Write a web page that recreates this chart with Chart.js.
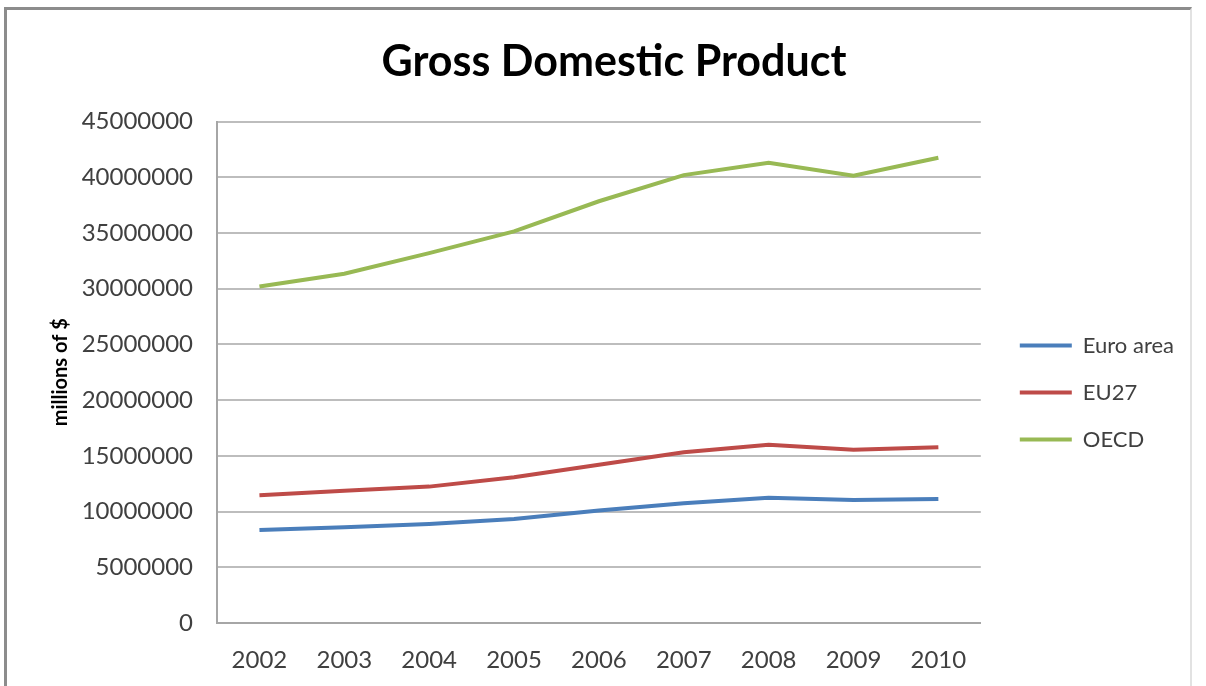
<!DOCTYPE html>
<html>
<head>
<meta charset="utf-8">
<script src="https://cdn.jsdelivr.net/npm/chart.js@4"></script>
<style>
  html, body { margin: 0; padding: 0; background: #fff; }
  #wrap { position: relative; width: 1206px; height: 686px; overflow: hidden; }
  #frame {
    position: absolute; left: 4px; top: 7px; width: 1188px; height: 700px;
    border-left: 3px solid #8c8c8c; border-top: 3px solid #8c8c8c;
    border-right: 2px solid #e2e2e2; box-sizing: border-box;
  }
  canvas { position: absolute; left: 0; top: 0; }
</style>
</head>
<body>
<div id="wrap">
  <div id="frame"></div>
  <canvas id="gdpChart" width="1206" height="686"></canvas>
</div>
<script>
const years = ['2002', '2003', '2004', '2005', '2006', '2007', '2008', '2009', '2010'];
const euroArea = [8350000, 8600000, 8890000, 9340000, 10090000, 10750000, 11250000, 11050000, 11140000];
const eu27 = [11470000, 11860000, 12240000, 13090000, 14200000, 15330000, 15990000, 15540000, 15780000];
const oecd = [30200000, 31350000, 33200000, 35150000, 37850000, 40200000, 41300000, 40150000, 41750000];
const yMax = 45000000;
const yStep = 5000000;

const font = 'Lato, "Open Sans", sans-serif';

function series(label, data, color) {
  return {
    label: label,
    data: data,
    borderColor: color,
    backgroundColor: color,
    borderWidth: 4,
    pointRadius: 0,
    pointHoverRadius: 0,
    tension: 0,
    fill: false
  };
}

new Chart(document.getElementById('gdpChart').getContext('2d'), {
  type: 'line',
  data: {
    labels: years,
    datasets: [
      series('Euro area', euroArea, '#4a7ebb'),
      series('EU27', eu27, '#be4b48'),
      series('OECD', oecd, '#98b954')
    ]
  },
  options: {
    responsive: false,
    animation: false,
    layout: { padding: { left: 44, top: 20, right: 22, bottom: 13 } },
    plugins: {
      title: {
        display: true,
        text: 'Gross Domestic Product',
        color: '#000',
        font: { family: font, size: 43, weight: 'bold' },
        padding: { top: 16, bottom: 34 }
      },
      legend: {
        position: 'right',
        fullSize: false,
        title: { display: true, text: ' ', font: { size: 12 }, padding: 13 },
        labels: {
          color: '#404040',
          font: { family: font, size: 22 },
          usePointStyle: true,
          pointStyle: 'line',
          pointStyleWidth: 52,
          padding: 25
        }
      },
      tooltip: { enabled: false }
    },
    scales: {
      x: {
        offset: true,
        afterFit: function (scale) { scale.height = 50; },
        grid: { display: false, drawTicks: false },
        border: { display: true, color: '#a6a6a6', width: 2 },
        ticks: { color: '#404040', padding: 23, font: { family: font, size: 24 } }
      },
      y: {
        min: 0,
        max: yMax,
        afterFit: function (scale) { scale.width = 173; },
        grid: { color: '#bdbdbd', lineWidth: 2, drawTicks: false },
        border: { display: true, color: '#a6a6a6', width: 2 },
        ticks: {
          stepSize: yStep,
          color: '#404040',
          padding: 24,
          font: { family: font, size: 24 },
          callback: function (v) { return String(v); }
        },
        title: {
          display: true,
          text: 'millions of $',
          color: '#000',
          font: { family: font, size: 20, weight: 'bold' },
          padding: { top: 5, bottom: 0 }
        }
      },
      gap: {
        position: 'right',
        display: true,
        afterFit: function (scale) { scale.width = 14; },
        grid: { display: false },
        border: { display: false },
        ticks: { display: false }
      }
    }
  }
});
</script>
</body>
</html>
